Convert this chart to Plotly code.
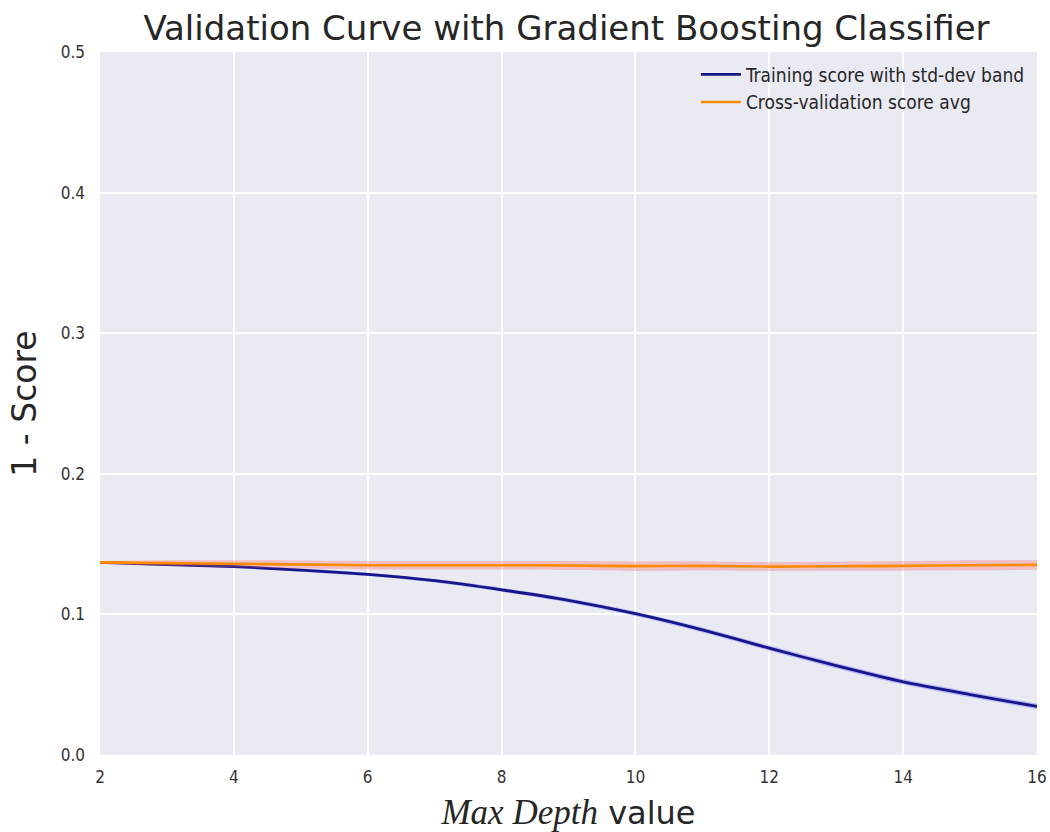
import plotly.graph_objects as go

depth = [2, 3, 4, 5, 6, 7, 8, 9, 10, 11, 12, 13, 14, 15, 16]
train_mean = [0.1370, 0.1355, 0.1340, 0.1315, 0.1285, 0.1240, 0.1175, 0.1100, 0.1005,
              0.0890, 0.0760, 0.0635, 0.0520, 0.0430, 0.0345]
train_std = [0.0008, 0.0009, 0.0010, 0.0011, 0.0012, 0.0013, 0.0014, 0.0015, 0.0016,
             0.0017, 0.0018, 0.0019, 0.0019, 0.0020, 0.0020]
cv_mean = [0.1370, 0.1365, 0.1360, 0.1355, 0.1350, 0.1350, 0.1350, 0.1348, 0.1343,
           0.1345, 0.1340, 0.1342, 0.1345, 0.1350, 0.1352]
cv_std = [0.0010, 0.0020, 0.0025, 0.0028, 0.0030, 0.0030, 0.0030, 0.0032, 0.0034,
          0.0032, 0.0032, 0.0032, 0.0034, 0.0036, 0.0035]

fig = go.Figure()

def band(x, m, s, color):
    upper = [a + b for a, b in zip(m, s)]
    lower = [a - b for a, b in zip(m, s)]
    fig.add_trace(go.Scatter(x=x, y=upper, mode="lines", line=dict(width=0, shape="spline", smoothing=0.6),
                             showlegend=False, hoverinfo="skip"))
    fig.add_trace(go.Scatter(x=x, y=lower, mode="lines", line=dict(width=0, shape="spline", smoothing=0.6),
                             fill="tonexty", fillcolor=color, showlegend=False,
                             hoverinfo="skip"))

band(depth, train_mean, train_std, "rgba(90,90,255,0.35)")
fig.add_trace(go.Scatter(x=depth, y=train_mean, mode="lines",
                         line=dict(color="#16168a", width=2.8, shape="spline", smoothing=0.6),
                         name="Training score with std-dev band"))
band(depth, cv_mean, cv_std, "rgba(255,90,90,0.30)")
fig.add_trace(go.Scatter(x=depth, y=cv_mean, mode="lines",
                         line=dict(color="#ff8c00", width=2.6, shape="spline", smoothing=0.6),
                         name="Cross-validation score avg"))

narrow = "Liberation Sans Narrow, DejaVu Sans Condensed, sans-serif"
tickfont = dict(family=narrow, size=17, color="#333333")

fig.update_layout(
    width=1050, height=832,
    margin=dict(l=100, r=13, t=52, b=77, autoexpand=False),
    paper_bgcolor="white",
    plot_bgcolor="#EAEAF2",
    title=dict(text="Validation Curve with Gradient Boosting Classifier",
               x=0.5395, xanchor="center", y=1 - 28 / 832, yanchor="middle",
               font=dict(family="DejaVu Sans", size=34, color="#262626")),
    xaxis=dict(range=[2, 16], tickvals=[2, 4, 6, 8, 10, 12, 14, 16],
               showgrid=True, gridcolor="white", gridwidth=1.5, zeroline=False,
               showline=False, ticks="", tickfont=tickfont, ticklabelstandoff=10,
               automargin=False,
               title=dict(text="<span style='font-family:Liberation Serif, DejaVu Serif, serif;font-size:35px'><i>Max Depth</i></span> value",
                          font=dict(family="DejaVu Sans", size=32, color="#262626"),
                          standoff=24)),
    yaxis=dict(range=[0, 0.5], tickvals=[0, 0.1, 0.2, 0.3, 0.4, 0.5],
               ticktext=["0.0", "0.1", "0.2", "0.3", "0.4", "0.5"],
               showgrid=True, gridcolor="white", gridwidth=1.5, zeroline=False,
               showline=False, ticks="", tickfont=tickfont, ticklabelstandoff=14,
               automargin=False,
               title=dict(text="1 - Score",
                          font=dict(family="DejaVu Sans", size=33, color="#262626"),
                          standoff=14)),
    legend=dict(x=0.636, y=0.995, xanchor="left", yanchor="top",
                bgcolor="rgba(0,0,0,0)", borderwidth=0, traceorder="normal",
                itemwidth=40,
                font=dict(family=narrow, size=19, color="#262626"),
                tracegroupgap=0),
)

fig.write_html("out.html", config={"displayModeBar": False},
               post_script="document.body.style.margin='0';document.body.style.overflow='hidden';")
